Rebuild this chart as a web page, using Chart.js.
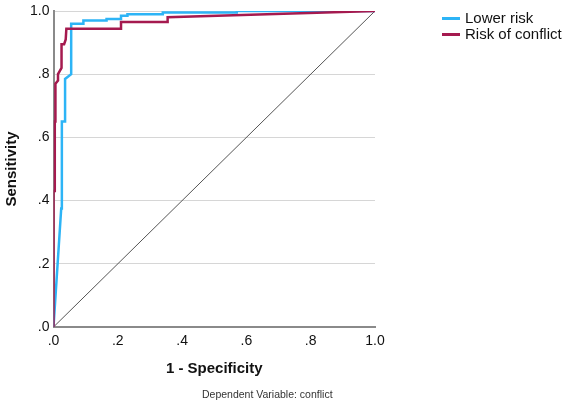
<!DOCTYPE html>
<html>
<head>
<meta charset="utf-8">
<script src="https://cdn.jsdelivr.net/npm/chart.js@4"></script>
<style>
  html, body { margin: 0; padding: 0; background: #fff; }
  #wrap { position: relative; width: 567px; height: 403px; font-family: "Liberation Sans", Arial, sans-serif; }
  canvas { position: absolute; left: 0; top: 0; }
  .leg { position: absolute; left: 442px; font-size: 15px; color: #111; line-height: 16px; white-space: nowrap; }
  .leg span.sw { display: inline-block; width: 18px; height: 3px; vertical-align: middle; margin-right: 5px; position: relative; top: -1px; }
  #caption { position: absolute; left: 202px; top: 388px; font-size: 10.5px; color: #333; white-space: nowrap; }
</style>
</head>
<body>
<div id="wrap">
  <canvas id="c" width="567" height="403"></canvas>
  <div class="leg" style="top:10px;"><span class="sw" style="background:#2db4f6"></span>Lower risk</div>
  <div class="leg" style="top:26px;"><span class="sw" style="background:#a51a4f"></span>Risk of conflict</div>
  <div id="caption">Dependent Variable: conflict</div>
</div>
<script>
// Series names
const seriesNames = ["Lower risk", "Risk of conflict"];
// Lower risk ROC curve (1 - specificity, sensitivity)
const lowerRiskFpr  = [0, 0.024, 0.026, 0.036, 0.036, 0.055, 0.055, 0.093, 0.093, 0.165, 0.165, 0.21, 0.21, 0.23, 0.23, 0.34, 0.34, 0.57, 0.57, 1.0];
const lowerRiskSens = [0, 0.375, 0.65, 0.65, 0.785, 0.80, 0.96, 0.96, 0.97, 0.97, 0.975, 0.975, 0.985, 0.985, 0.99, 0.99, 0.995, 0.995, 1.0, 1.0];
// Risk of conflict ROC curve
const conflictFpr  = [0, 0, 0.004, 0.004, 0.006, 0.006, 0.014, 0.014, 0.025, 0.025, 0.033, 0.038, 0.04, 0.21, 0.21, 0.355, 0.355, 1.0];
const conflictSens = [0, 0.43, 0.43, 0.65, 0.65, 0.77, 0.78, 0.80, 0.82, 0.895, 0.895, 0.91, 0.944, 0.944, 0.965, 0.965, 0.98, 1.0];
// Reference diagonal
const diagonalX = [0, 1];
const diagonalY = [0, 1];
// Axis ticks
const tickValues = [0, 0.2, 0.4, 0.6, 0.8, 1.0];
const tickLabels = [".0", ".2", ".4", ".6", ".8", "1.0"];

const pts = (xs, ys) => xs.map((x, i) => ({ x: x, y: ys[i] }));
const fmt = v => {
  const i = tickValues.findIndex(t => Math.abs(t - v) < 1e-6);
  return i >= 0 ? tickLabels[i] : '';
};

const FONT = "'Liberation Sans', Arial, sans-serif";

new Chart(document.getElementById('c'), {
  type: 'line',
  data: {
    datasets: [
      { label: seriesNames[1], data: pts(conflictFpr, conflictSens), borderColor: '#a51a4f', borderWidth: 2.5, pointRadius: 0, tension: 0, order: 0, fill: false },
      { label: seriesNames[0], data: pts(lowerRiskFpr, lowerRiskSens), borderColor: '#2db4f6', borderWidth: 2.5, pointRadius: 0, tension: 0, order: 1, fill: false },
      { label: 'diag', data: pts(diagonalX, diagonalY), borderColor: '#555555', borderWidth: 1, pointRadius: 0, tension: 0, order: 2, fill: false }
    ]
  },
  options: {
    responsive: false,
    animation: false,
    events: [],
    layout: { padding: { left: 0, right: 192, top: 7, bottom: 25 } },
    plugins: { legend: { display: false }, tooltip: { enabled: false } },
    scales: {
      x: {
        type: 'linear', min: 0, max: 1,
        afterFit: s => { s.height = 51; },
        afterBuildTicks: s => { s.ticks = tickValues.map(v => ({ value: v })); },
        ticks: { callback: fmt, color: '#111', padding: 7, maxRotation: 0, font: { family: FONT, size: 14, lineHeight: 1 } },
        grid: { color: 'rgba(0,0,0,0)', drawTicks: false },
        border: { display: true, color: '#8a8a8a', width: 2 },
        title: { display: true, text: '1 - Specificity', color: '#111', padding: { top: 0, bottom: 0 }, font: { family: FONT, size: 15, weight: 'bold', lineHeight: 1.2 } }
      },
      y: {
        type: 'linear', min: 0, max: 1,
        afterFit: s => { s.width = 53.5; },
        afterBuildTicks: s => { s.ticks = tickValues.map(v => ({ value: v })); },
        ticks: { callback: fmt, color: '#111', padding: 4, font: { family: FONT, size: 14, lineHeight: 1 } },
        grid: { color: ctx => (ctx.tick && ctx.tick.value === 0) ? 'rgba(0,0,0,0)' : '#d6d6d6', drawTicks: false, lineWidth: 1 },
        border: { display: true, color: '#8a8a8a', width: 2 },
        title: { display: true, text: 'Sensitivity', color: '#111', padding: { top: 3, bottom: 0 }, font: { family: FONT, size: 15, weight: 'bold', lineHeight: 1.2 } }
      }
    }
  }
});
</script>
</body>
</html>
